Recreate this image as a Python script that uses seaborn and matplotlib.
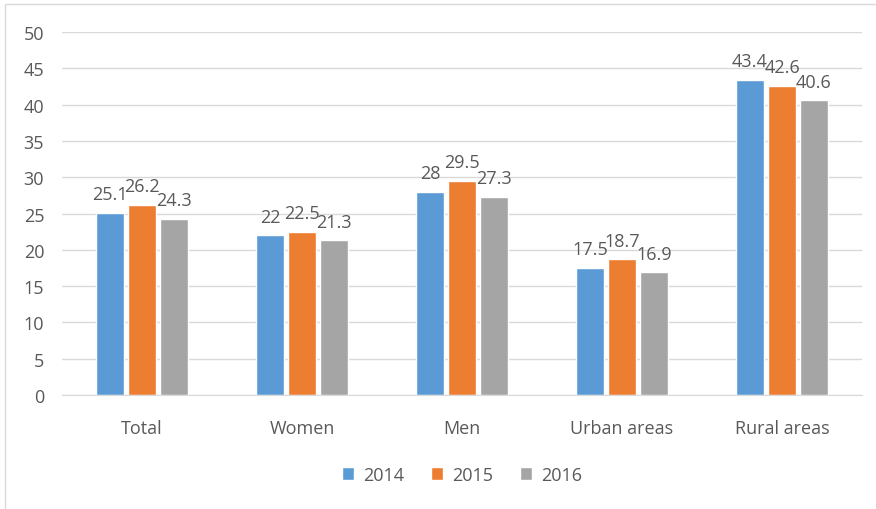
import pandas as pd
import seaborn as sns
import matplotlib.pyplot as plt
from matplotlib.patches import Rectangle

# data
categories = ['Total', 'Women', 'Men', 'Urban areas', 'Rural areas']
years = ['2014', '2015', '2016']
v2014 = [25.1, 22.0, 28.0, 17.5, 43.4]
v2015 = [26.2, 22.5, 29.5, 18.7, 42.6]
v2016 = [24.3, 21.3, 27.3, 16.9, 40.6]
labels2014 = ['25.1', '22', '28', '17.5', '43.4']
labels2015 = ['26.2', '22.5', '29.5', '18.7', '42.6']
labels2016 = ['24.3', '21.3', '27.3', '16.9', '40.6']

df = pd.DataFrame({
    'Category': categories * 3,
    'Year': [y for y in years for _ in categories],
    'Value': v2014 + v2015 + v2016,
})

colors = ['#5B9BD5', '#ED7D31', '#A5A5A5']
text_col = '#595959'

sns.set_style('white')
plt.rcParams['font.family'] = ['Open Sans', 'DejaVu Sans']

fig = plt.figure(figsize=(8.76, 5.10), dpi=100)
ax = fig.add_axes([0.071, 0.2235, 0.913, 0.7115])

sns.barplot(data=df, x='Category', y='Value', hue='Year', palette=colors,
            saturation=1, width=0.6, gap=0.12, ax=ax, legend=True)

for cont, labs in zip(ax.containers, [labels2014, labels2015, labels2016]):
    ax.bar_label(cont, labels=labs, padding=7, fontsize=13, color=text_col)

ax.set_ylim(0, 50)
ax.set_xlim(-0.5, 4.5)
ax.set_yticks(range(0, 51, 5))
ax.yaxis.grid(True, color='#D9D9D9', linewidth=1)
ax.set_axisbelow(True)
for s in ['top', 'right', 'left']:
    ax.spines[s].set_visible(False)
ax.spines['bottom'].set_color('#D9D9D9')
ax.tick_params(axis='both', length=0, labelsize=13, colors=text_col)
ax.tick_params(axis='x', pad=17)
ax.tick_params(axis='y', pad=13)
ax.set_xlabel('')
ax.set_ylabel('')

leg = ax.legend(loc='center', bbox_to_anchor=(0.5, -0.22), ncol=3, frameon=False,
                fontsize=13, handlelength=0.65, handleheight=0.65, handletextpad=0.5,
                columnspacing=1.5)
for t in leg.get_texts():
    t.set_color(text_col)

fig.patches.append(Rectangle((0.006, -0.01), 1.1, 1.0, transform=fig.transFigure,
                             fill=False, edgecolor='#D9D9D9', linewidth=1))

fig.savefig('out.png', dpi=100)
